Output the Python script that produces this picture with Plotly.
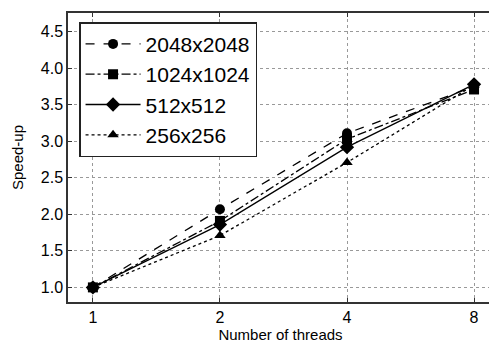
import plotly.graph_objects as go

threads = [1, 2, 4, 8]
tick_labels = ["1", "2", "4", "8"]
series_names = ["2048x2048", "1024x1024", "512x512", "256x256"]
speedup_2048 = [1.0, 2.07, 3.11, 3.75]
speedup_1024 = [1.0, 1.91, 3.03, 3.71]
speedup_512 = [1.0, 1.86, 2.92, 3.78]
speedup_256 = [1.0, 1.71, 2.71, 3.77]

values = [speedup_2048, speedup_1024, speedup_512, speedup_256]
dashes = ["dash", "dashdot", "solid", "dot"]
symbols = ["circle", "square", "diamond", "triangle-up"]

fig = go.Figure()
for i, (name, vals) in enumerate(zip(series_names, values)):
    fig.add_trace(go.Scatter(
        x=threads, y=vals, name=name, mode="lines+markers",
        line=dict(color="black", width=1.3, dash=dashes[i]),
        marker=dict(symbol=symbols[i], size=10 if symbols[i] != "diamond" else 11, color="black"),
        legendgroup=name,
    ))

font = "Liberation Sans, Arial, sans-serif"
fig.update_layout(
    width=489, height=335,
    margin=dict(l=60, r=2, t=5, b=41),
    paper_bgcolor="white", plot_bgcolor="white",
    font=dict(family=font, color="black"),
    showlegend=True,
    legend=dict(x=0.026, y=0.968, xanchor="left", yanchor="top",
                bordercolor="#222", borderwidth=1.5, bgcolor="white",
                font=dict(size=21, family=font), tracegroupgap=0,
                itemwidth=55),
    xaxis=dict(type="log", range=[-0.059, 0.948], tickvals=threads, ticktext=tick_labels,
               showgrid=True, gridcolor="#999", griddash="dot", gridwidth=1,
               showline=True, linecolor="#333", linewidth=1.5, mirror="ticks",
               ticks="inside", ticklen=4, tickcolor="#333",
               tickfont=dict(size=16), zeroline=False,
               title=dict(text="Number of threads", font=dict(size=15), standoff=5)),
    yaxis=dict(range=[0.8, 4.757], tickvals=[1.0, 1.5, 2.0, 2.5, 3.0, 3.5, 4.0, 4.5],
               ticktext=["1.0", "1.5", "2.0", "2.5", "3.0", "3.5", "4.0", "4.5"],
               showgrid=True, gridcolor="#999", griddash="dot", gridwidth=1,
               showline=True, linecolor="#333", linewidth=1.5, mirror="ticks",
               ticks="inside", ticklen=4, tickcolor="#333",
               tickfont=dict(size=16), zeroline=False,
               title=dict(text="Speed-up", font=dict(size=15), standoff=14)),
)

fig.write_html("out.html")
